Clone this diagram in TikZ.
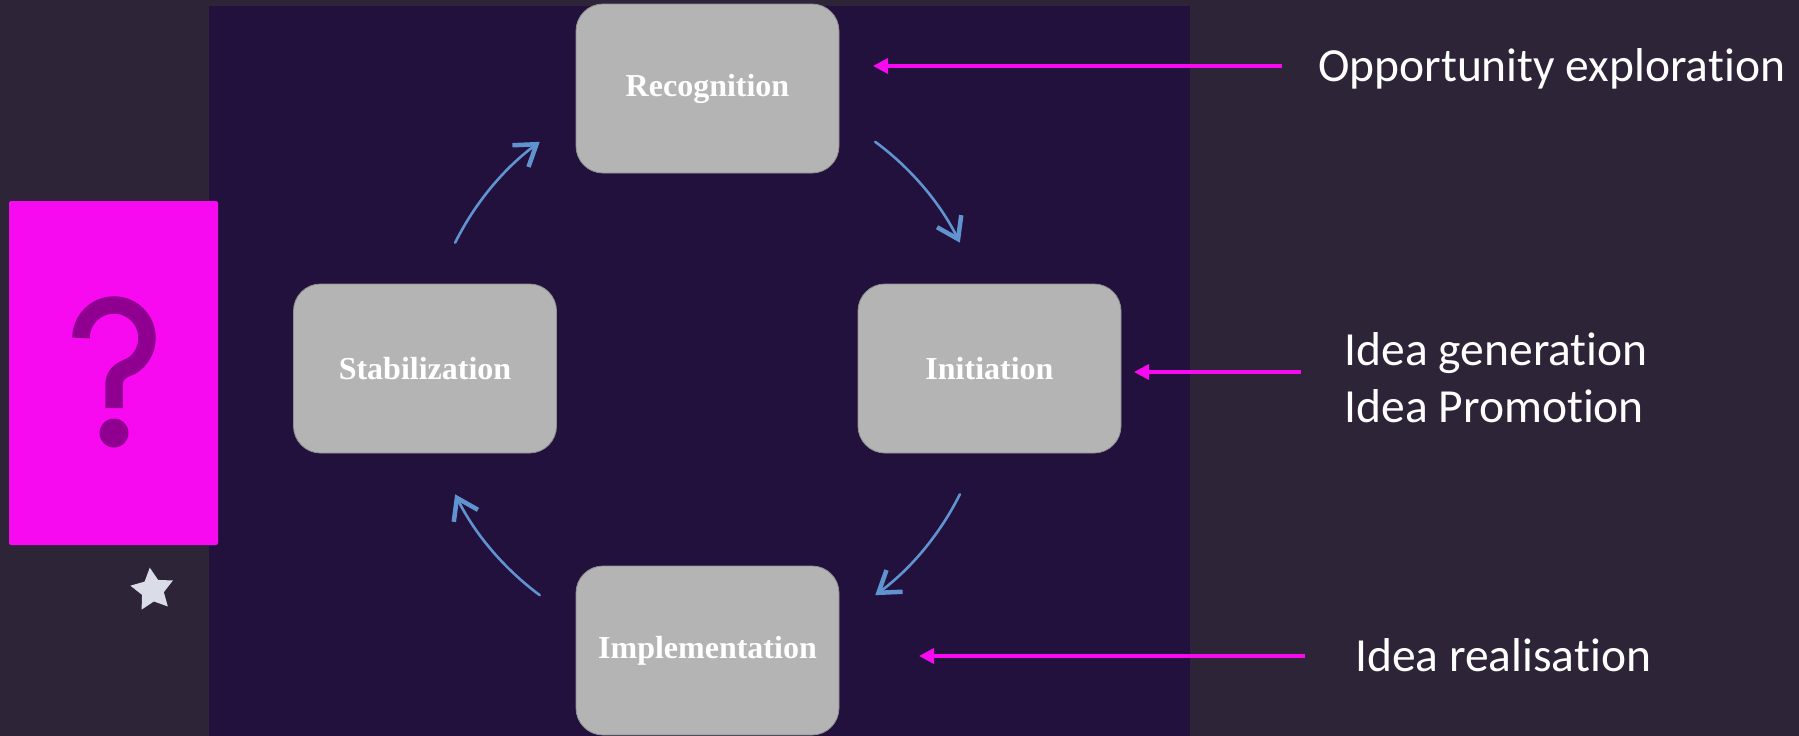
\documentclass[tikz,border=0pt]{standalone}
\usepackage{fontspec}
\setmainfont{Liberation Serif}
\newfontfamily\labelfont[Ligatures=NoCommon,Contextuals=NoAlternate]{Carlito}
\usetikzlibrary{arrows.meta,shapes.geometric}
\definecolor{outerbg}{RGB}{45,36,56}
\definecolor{panelbg}{RGB}{34,17,60}
\definecolor{boxgrey}{RGB}{180,180,180}
\definecolor{magentaA}{RGB}{248,10,240}
\definecolor{qpurple}{RGB}{143,0,145}
\definecolor{cycleblue}{RGB}{96,148,208}
\definecolor{starcol}{RGB}{218,221,232}
\begin{document}
\begin{tikzpicture}[x=1pt,y=-1pt,
  stagebox/.style={draw=boxgrey!80!black, line width=0.8pt, fill=boxgrey,
    rounded corners=27pt, minimum width=263pt, minimum height=169pt,
    inner sep=0pt, text=white, font=\fontsize{32}{38}\selectfont\bfseries},
  labeltext/.style={text=white, inner sep=0pt, anchor=base west,
    font=\labelfont\fontsize{47.5}{57}\selectfont},
  magarrow/.style={draw=magentaA, line width=3.4pt,
    -{Triangle[length=15pt,width=15pt]}},
  cyclearrow/.style={draw=cycleblue, line width=2.6pt, line cap=round,
    -{Straight Barb[length=20pt,width=27pt,line width=4.5pt]}},
  qstroke/.style={draw=qpurple, line width=17.5pt, line cap=butt}]
  % backgrounds
  \useasboundingbox (0,0) rectangle (1799,736);
  \fill[outerbg] (0,0) rectangle (1799,736);
  \fill[panelbg] (209,6) rectangle (1190,736);
  % question card
  \node[fill=magentaA, rounded corners=2pt, minimum width=209pt, minimum height=344pt,
    inner sep=0pt] (q) at (113.5,373) {};
  \coordinate (qs) at (81,338);
  \draw[qstroke] (qs) arc[start angle=180, end angle=418, radius=33]
    .. controls (118,371) and (114,376) .. (114,386) -- (114,408);
  \coordinate (qd) at (114,433);
  \fill[qpurple] (qd) circle[radius=14.5];
  \node[star, star points=5, star point ratio=1.95, fill=starcol,
    minimum size=45pt, inner sep=0pt, rotate=7] (st) at (152.5,590) {};
  % stages
  \node[stagebox] (rec) at (707.5,88.5) {Recognition};
  \node[stagebox] (ini) at (989.5,368.5) {Initiation};
  \node[stagebox] (sta) at (425,368.5) {Stabilization};
  \node[stagebox] (imp) at (707.5,650.5) {Implementation};
  % cycle arrows
  \coordinate (c) at (707.5,368.5);
  \path (c) ++(206.5:282) coordinate (a1);
  \path (c) ++(306.5:282) coordinate (a2);
  \path (c) ++(26.5:282) coordinate (a3);
  \path (c) ++(126.5:282) coordinate (a4);
  \draw[cyclearrow] (a1) arc[start angle=206.5, end angle=233.5, radius=282];
  \draw[cyclearrow] (a2) arc[start angle=306.5, end angle=333.5, radius=282];
  \draw[cyclearrow] (a3) arc[start angle=26.5, end angle=53.5, radius=282];
  \draw[cyclearrow] (a4) arc[start angle=126.5, end angle=153.5, radius=282];
  % labels
  \node[labeltext] (l1) at (1318,81) {Opportunity exploration};
  \node[labeltext] (l2a) at (1344.5,365) {Idea generation};
  \node[labeltext] (l2b) at (1344.5,422.5) {Idea Promotion};
  \node[labeltext] (l3) at (1355,671) {Idea realisation};
  % magenta pointers
  \coordinate (m1s) at (1282,66);
  \coordinate (m1e) at (873,66);
  \coordinate (m2s) at (1301,372);
  \coordinate (m2e) at (1134,372);
  \coordinate (m3s) at (1305,656);
  \coordinate (m3e) at (919,656);
  \draw[magarrow] (m1s) -- (m1e);
  \draw[magarrow] (m2s) -- (m2e);
  \draw[magarrow] (m3s) -- (m3e);
\end{tikzpicture}
\end{document}
